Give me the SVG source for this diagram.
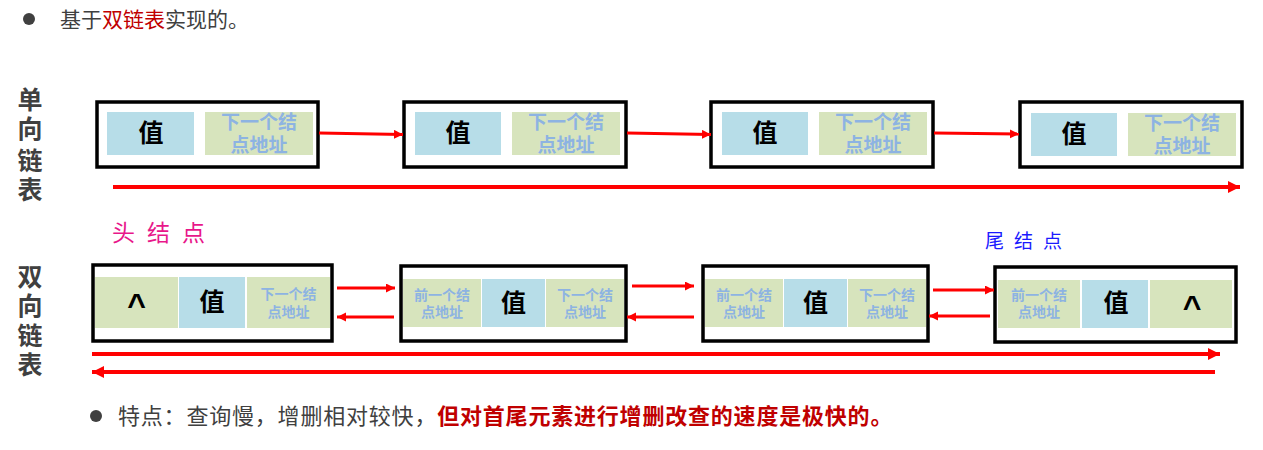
<svg xmlns="http://www.w3.org/2000/svg" width="1263" height="450" viewBox="0 0 1263 450">
<style>
text{font-family:"Liberation Sans","Noto Sans CJK SC",sans-serif}
.box{fill:#fff;stroke:#000;stroke-width:3.5}
.val{fill:#b7dde8}
.adr{fill:#d7e4bd}
.vt{font-size:25px;font-weight:bold;fill:#000;text-anchor:middle;dominant-baseline:central}
.at{font-size:19px;font-weight:bold;fill:#8db3e2;text-anchor:middle;dominant-baseline:central}
.as{font-size:14px;font-weight:bold;fill:#8db3e2;text-anchor:middle;dominant-baseline:central}
.ct{font-size:32px;font-weight:bold;fill:#000;text-anchor:middle}
.side{font-size:25px;font-weight:bold;fill:#404040;text-anchor:middle;dominant-baseline:central}
.body{font-size:21px;fill:#404040}
.note{font-size:22px;fill:#404040;letter-spacing:0.8px}
.red{stroke:#ff0000;fill:none}
</style>
<defs>
<marker id="ah" markerUnits="userSpaceOnUse" markerWidth="14" markerHeight="14" refX="12" refY="6" orient="auto"><path d="M0,0 L12,6 L0,12 Z" fill="#ff0000"/></marker>
<marker id="as" markerUnits="userSpaceOnUse" markerWidth="12" markerHeight="12" refX="9" refY="4.5" orient="auto"><path d="M0,0 L9,4.5 L0,9 Z" fill="#ff0000"/></marker>
</defs>
<rect width="1263" height="450" fill="#fff"/>

<g id="title">
<circle cx="29" cy="19" r="6" fill="#404040"/>
<text class="body" x="60" y="27">基于<tspan fill="#c00000">双链表</tspan>实现的。</text>
</g>

<g id="label-single">
<text class="side"><tspan x="30" y="100">单</tspan><tspan x="30" y="129">向</tspan><tspan x="30" y="161">链</tspan><tspan x="30" y="190">表</tspan></text>
</g>
<g id="label-double">
<text class="side"><tspan x="30" y="277">双</tspan><tspan x="30" y="306">向</tspan><tspan x="30" y="336">链</tspan><tspan x="30" y="365">表</tspan></text>
</g>

<g id="s1">
<rect class="box" x="97" y="102" width="221" height="65"/>
<rect class="val" x="107" y="112" width="87" height="43"/>
<rect class="adr" x="205" y="112" width="108" height="43"/>
<text class="vt" x="151" y="133">值</text>
<text class="at"><tspan x="259" y="121.5">下一个结</tspan><tspan x="259" y="145">点地址</tspan></text>
</g>
<g id="s2">
<rect class="box" x="404" y="102" width="222" height="65"/>
<rect class="val" x="415" y="112" width="86" height="43"/>
<rect class="adr" x="512" y="112" width="108" height="43"/>
<text class="vt" x="458" y="133">值</text>
<text class="at"><tspan x="566" y="121.5">下一个结</tspan><tspan x="566" y="145">点地址</tspan></text>
</g>
<g id="s3">
<rect class="box" x="711" y="102" width="222" height="65"/>
<rect class="val" x="722" y="112" width="86" height="43"/>
<rect class="adr" x="819" y="112" width="108" height="43"/>
<text class="vt" x="765" y="133">值</text>
<text class="at"><tspan x="873" y="121.5">下一个结</tspan><tspan x="873" y="145">点地址</tspan></text>
</g>
<g id="s4">
<rect class="box" x="1020" y="102" width="222" height="65"/>
<rect class="val" x="1031" y="113" width="86" height="43"/>
<rect class="adr" x="1128" y="113" width="108" height="43"/>
<text class="vt" x="1074" y="134">值</text>
<text class="at"><tspan x="1182" y="122.5">下一个结</tspan><tspan x="1182" y="146">点地址</tspan></text>
</g>

<g id="head-label"><text x="112" y="241" font-size="23" fill="#e8178a" letter-spacing="12">头结点</text></g>
<g id="tail-label"><text x="985" y="248" font-size="19" fill="#1a1aff" letter-spacing="10">尾结点</text></g>

<g id="d1">
<rect class="box" x="93" y="265" width="239" height="76"/>
<rect class="adr" x="95" y="277" width="83" height="51"/>
<rect class="val" x="179" y="277" width="66" height="51"/>
<rect class="adr" x="247" y="277" width="83" height="51"/>
<text class="ct" x="136.5" y="316">^</text>
<text class="vt" x="212" y="302">值</text>
<text class="as"><tspan x="288.5" y="294">下一个结</tspan><tspan x="288.5" y="312">点地址</tspan></text>
</g>
<g id="d2">
<rect class="box" x="401" y="266" width="225" height="75"/>
<rect class="adr" x="403" y="279" width="78" height="48"/>
<rect class="val" x="482" y="279" width="63" height="48"/>
<rect class="adr" x="546" y="279" width="78" height="48"/>
<text class="as"><tspan x="442" y="295">前一个结</tspan><tspan x="442" y="312">点地址</tspan></text>
<text class="vt" x="513.5" y="303">值</text>
<text class="as"><tspan x="585" y="295">下一个结</tspan><tspan x="585" y="312">点地址</tspan></text>
</g>
<g id="d3">
<rect class="box" x="703" y="266" width="225" height="75"/>
<rect class="adr" x="705" y="279" width="78" height="48"/>
<rect class="val" x="784" y="279" width="63" height="48"/>
<rect class="adr" x="848" y="279" width="78" height="48"/>
<text class="as"><tspan x="744" y="295">前一个结</tspan><tspan x="744" y="312">点地址</tspan></text>
<text class="vt" x="815.5" y="303">值</text>
<text class="as"><tspan x="887" y="295">下一个结</tspan><tspan x="887" y="312">点地址</tspan></text>
</g>
<g id="d4">
<rect class="box" x="995" y="267" width="241" height="75"/>
<rect class="adr" x="998" y="280" width="82" height="48"/>
<rect class="val" x="1082" y="280" width="66" height="48"/>
<rect class="adr" x="1150" y="280" width="82" height="48"/>
<text class="as"><tspan x="1039" y="295">前一个结</tspan><tspan x="1039" y="312">点地址</tspan></text>
<text class="vt" x="1116" y="303">值</text>
<text class="ct" x="1192" y="318">^</text>
</g>

<g id="connectors">
<line class="red" stroke-width="3" x1="319" y1="133" x2="403" y2="134.5" marker-end="url(#as)"/>
<line class="red" stroke-width="3" x1="627" y1="133" x2="711" y2="134.5" marker-end="url(#as)"/>
<line class="red" stroke-width="3" x1="934" y1="133" x2="1019" y2="134" marker-end="url(#as)"/>
<line class="red" stroke-width="4" x1="113" y1="187" x2="1240" y2="187" marker-end="url(#ah)"/>

<line class="red" stroke-width="3" x1="337" y1="288" x2="395" y2="288" marker-end="url(#as)"/>
<line class="red" stroke-width="3" x1="394" y1="317" x2="337" y2="317" marker-end="url(#as)"/>
<line class="red" stroke-width="3" x1="632" y1="286" x2="694" y2="286" marker-end="url(#as)"/>
<line class="red" stroke-width="3" x1="694" y1="317" x2="627" y2="317" marker-end="url(#as)"/>
<line class="red" stroke-width="3" x1="933" y1="290" x2="994" y2="290" marker-end="url(#as)"/>
<line class="red" stroke-width="3" x1="990" y1="316" x2="929" y2="316" marker-end="url(#as)"/>

<line class="red" stroke-width="4" x1="92" y1="354" x2="1220" y2="354" marker-end="url(#ah)"/>
<line class="red" stroke-width="4" x1="1215" y1="372" x2="92" y2="372" marker-end="url(#ah)"/>
</g>

<g id="note">
<circle cx="96" cy="416" r="6" fill="#404040"/>
<text class="note" x="118" y="424">特点：查询慢，增删相对较快，<tspan fill="#c00000" font-weight="bold">但对首尾元素进行增删改查的速度是极快的。</tspan></text>
</g>
</svg>
